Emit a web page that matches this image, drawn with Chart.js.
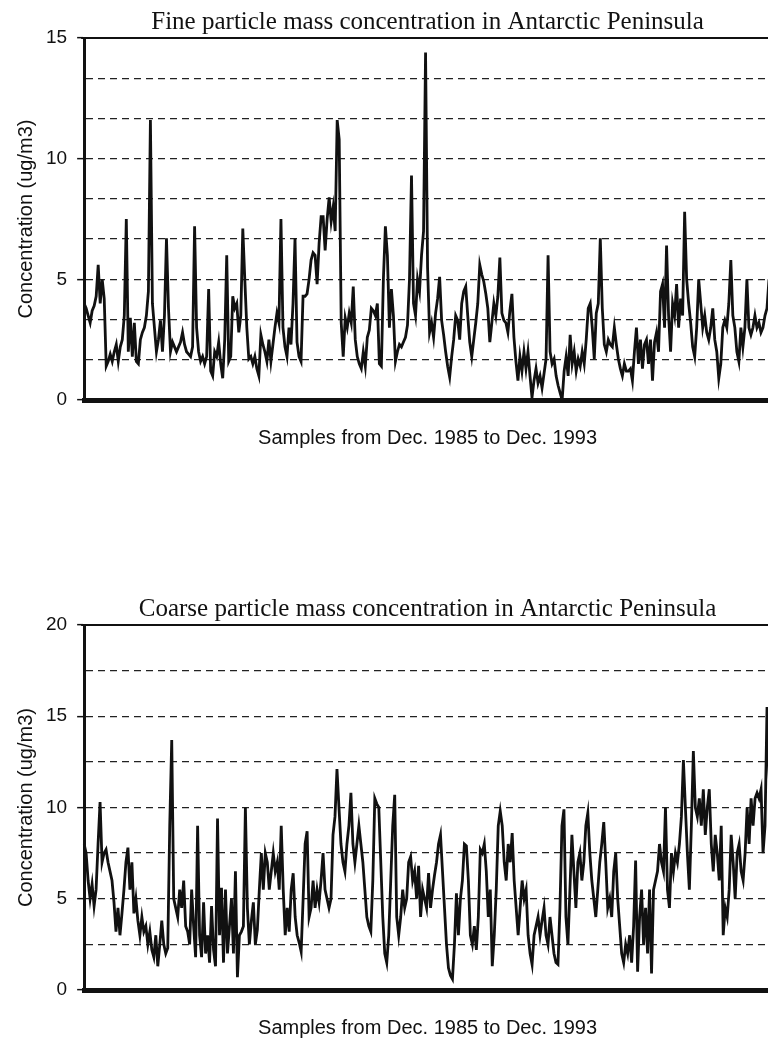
<!DOCTYPE html>
<html>
<head>
<meta charset="utf-8">
<script src="https://cdn.jsdelivr.net/npm/chart.js@4.4.0/dist/chart.umd.min.js"></script>
<style>
  html, body { margin: 0; padding: 0; background: #fff; overflow: hidden; width: 768px; height: 1043px; }
  canvas { position: absolute; left: 0; }
  #fine { top: 0; }
  #coarse { top: 585px; }
</style>
</head>
<body>
<canvas id="fine" width="771" height="461"></canvas>
<canvas id="coarse" width="771" height="458"></canvas>
<script>
// fine particles, ug/m3, one value per sample (Dec 1985 - Dec 1993)
const fineValues = [
  4.0, 3.8, 3.5, 3.2, 3.7, 3.9, 4.3, 5.6, 4.0, 5.0, 4.2, 1.4, 1.6, 1.9, 1.6, 2.0, 2.3, 1.6, 2.2, 2.5,
  3.5, 7.5, 2.0, 3.4, 1.8, 3.2, 1.6, 1.5, 2.5, 2.8, 3.0, 3.5, 4.5, 11.6, 4.0, 3.0, 2.0, 2.5, 3.3, 2.0,
  3.5, 6.7, 3.8, 2.0, 2.4, 2.2, 2.0, 2.2, 2.4, 2.8, 2.3, 2.0, 1.9, 1.8, 2.2, 7.2, 3.0, 2.0, 1.6, 1.8,
  1.5, 1.8, 4.6, 1.2, 1.0, 2.0, 1.8, 2.4, 1.5, 0.9, 2.5, 6.0, 1.6, 1.8, 4.3, 3.8, 4.0, 2.8, 3.5, 7.1,
  5.0, 3.0, 1.7, 1.8, 1.5, 1.8,
  1.3, 1.0, 2.7, 2.3, 2.0, 1.6, 2.5, 1.6, 2.3, 3.0, 3.6, 3.2, 7.5, 3.0, 2.2, 1.8, 3.0, 2.3, 4.0, 6.7,
  2.4, 1.8, 1.6, 4.3, 4.3, 4.4, 5.0, 5.8, 6.1, 6.0, 4.8, 6.5, 7.6, 7.6, 6.2, 7.5, 8.4, 7.4, 8.0, 7.0,
  11.6, 10.8, 3.2, 1.8, 3.4, 3.0, 3.6, 3.2, 4.7, 2.5, 1.8, 1.5, 1.3, 2.0, 1.4, 2.6, 2.9, 3.8, 3.7, 3.5,
  4.0, 1.5, 1.4, 5.0, 7.2, 6.0, 3.0, 4.6, 3.5, 1.6, 2.0, 2.3, 2.2, 2.4, 2.6, 3.1, 5.0, 9.3, 4.0, 3.5,
  5.0, 4.5, 6.0, 7.0, 14.4,
  5.5, 2.8, 3.2, 2.6, 3.6, 4.2, 5.1, 3.3, 2.7, 2.0, 1.4, 0.95, 1.8, 2.5, 3.5, 3.3, 2.5, 4.0, 4.5, 4.7,
  3.5, 2.4, 1.8, 2.5, 3.2, 4.0, 5.6, 5.2, 4.9, 4.4, 3.8, 2.4, 3.2, 4.0, 3.5, 4.3, 5.9, 3.6, 3.3, 3.2,
  2.8, 3.7, 4.4, 2.6, 1.6, 0.8, 1.8, 1.2, 2.0, 1.3, 2.0, 1.0, 0.1, 0.8, 1.3, 0.7, 1.0, 0.5, 1.1, 1.7,
  6.0, 2.0, 1.5, 1.7, 1.0, 0.6, 0.3, 0.0, 1.2, 1.8, 1.0, 2.7, 1.5, 2.0, 1.2, 1.7, 1.4, 2.0, 1.5, 2.5,
  3.8, 4.0, 3.0, 1.7, 3.6,
  4.0, 6.7, 3.8, 2.3, 2.0, 2.5, 2.3, 2.2, 3.0, 2.3, 1.7, 1.3, 1.0, 1.5, 1.2, 1.2, 1.3, 0.8, 2.0, 3.0,
  1.5, 2.5, 1.3, 2.3, 2.5, 1.5, 2.5, 0.8, 2.4, 2.8, 2.0, 4.5, 4.8, 3.0, 6.4, 3.5, 2.0, 4.0, 3.5, 4.8,
  3.0, 4.2, 3.5, 7.8, 5.0, 4.0, 3.2, 2.2, 1.8, 3.0, 5.0, 4.0, 3.0, 3.5, 2.8, 2.5, 3.0, 3.8, 2.5, 2.0,
  0.9, 1.5, 3.0, 3.3, 3.0, 4.0, 5.8, 3.5, 3.0, 2.0, 1.6, 3.0, 2.2, 3.0, 5.0, 3.0, 2.7, 3.0, 3.5, 3.0,
  3.2, 2.8, 3.0, 3.5, 3.8, 5.0, 3.0
];

// coarse particles, ug/m3
const coarseValues = [
  8.0, 7.5, 6.0, 5.0, 5.8, 4.6, 5.5, 8.0, 10.3, 7.0, 7.5, 7.7, 7.0, 6.5, 6.0, 4.8, 3.2, 4.5, 3.0, 4.2,
  5.5, 7.0, 7.8, 5.5, 7.0, 4.2, 5.0, 3.8, 3.0, 4.0, 3.2, 3.5, 2.5, 3.2, 2.2, 1.8, 3.0, 1.3, 2.5, 3.8,
  2.5, 2.0, 2.3, 9.0, 13.7, 5.0, 4.5, 4.0, 5.5, 4.5, 6.0, 3.5, 3.2, 2.5, 5.5, 3.5, 1.8, 9.0, 3.0, 1.8,
  4.8, 2.0, 3.0, 1.5, 4.6, 2.2, 1.3, 9.4, 3.0, 5.6, 1.5, 5.5, 2.0, 3.5, 5.0, 2.0, 6.5, 0.7, 3.0, 3.2,
  3.5, 10.0, 4.5, 2.5, 3.8, 4.8, 2.5,
  3.3, 5.5, 7.5, 5.5, 7.5, 7.0, 5.5, 6.5, 7.5, 6.5, 7.0, 5.5, 9.0, 5.5, 3.0, 4.5, 3.2, 5.5, 6.4, 4.0,
  3.0, 2.6, 2.1, 5.0, 8.0, 8.7, 4.0, 4.5, 6.0, 4.5, 5.5, 4.8, 6.0, 7.5, 5.5, 5.0, 4.5, 5.0, 8.5, 9.5,
  12.1, 10.0, 8.0, 7.0, 6.5, 8.0, 9.0, 10.8, 8.0, 7.0, 8.0, 9.0, 8.0, 7.0, 5.5, 4.0, 3.5, 3.2, 6.0, 10.5,
  10.2, 10.0, 7.0, 4.0, 2.0, 1.5, 3.0, 6.0, 9.0, 10.7, 4.0, 3.0, 4.0, 5.5, 4.5, 5.0, 7.0, 7.3, 6.0, 6.5,
  5.0, 6.8, 4.0, 5.5, 5.0, 4.5,
  6.4, 4.5, 5.5, 6.3, 7.0, 8.0, 8.5, 6.5, 4.5, 2.5, 1.2, 0.8, 0.6, 2.5, 5.3, 3.0, 5.0, 6.0, 8.0, 7.9,
  6.0, 3.0, 2.5, 3.5, 2.2, 4.0, 7.7, 7.5, 8.0, 6.5, 4.0, 5.5, 1.3, 3.0, 5.5, 9.0, 9.8, 9.0, 7.0, 6.0,
  8.0, 7.0, 8.6, 6.0, 4.5, 3.0, 4.5, 6.0, 5.0, 5.5, 3.0, 2.0, 1.4, 3.0, 3.5, 4.0, 3.0, 3.8, 4.5, 3.0,
  2.5, 4.0, 3.0, 2.0, 1.5, 1.4, 4.5, 9.0, 9.9, 4.0, 2.5, 5.5, 8.5, 6.5, 4.5, 7.0, 7.5, 6.0, 7.0, 9.0,
  9.7, 7.5, 6.0, 5.0, 4.0, 5.5,
  7.0, 8.0, 9.2, 7.0, 4.5, 5.0, 4.0, 6.5, 7.5, 5.0, 3.5, 2.0, 1.5, 2.5, 2.0, 3.0, 1.5, 3.5, 7.1, 1.0,
  4.0, 5.5, 2.5, 4.5, 2.0, 5.5, 0.9, 5.5, 6.0, 6.5, 8.0, 7.0, 6.5, 10.0, 5.5, 4.5, 7.5, 6.5, 7.5, 7.0,
  8.0, 9.5, 12.6, 10.0, 7.5, 5.5, 9.0, 13.1, 10.0, 9.5, 10.5, 9.0, 11.0, 8.5, 10.0, 11.0, 8.0, 6.5, 8.5, 7.5,
  6.0, 9.0, 3.0, 4.5, 4.0, 5.5, 8.5, 7.0, 5.0, 7.5, 8.0, 6.5, 6.0, 7.5, 10.0, 8.0, 10.5, 9.0, 10.5, 10.8,
  10.5, 11.0, 7.5, 9.0, 15.5, 12.0, 9.5
];

// dashed grid positions and the ones that carry a label
const fineGrid = [0, 1.6667, 3.3333, 5, 6.6667, 8.3333, 10, 11.6667, 13.3333, 15];
const fineTickLabels = [0, 5, 10, 15];
const coarseGrid = [0, 2.5, 5, 7.5, 10, 12.5, 15, 17.5, 20];
const coarseTickLabels = [0, 5, 10, 15, 20];

const INK = '#111';
const sansFont = 'Arial, "Liberation Sans", sans-serif';
const serifFont = '"Liberation Serif", "Times New Roman", serif';

// solid top edge of the plot frame
const frameTop = {
    id: 'frameTop',
    afterDraw(chart) {
        const { ctx, chartArea: a } = chart;
        ctx.save();
        ctx.strokeStyle = INK;
        ctx.lineWidth = 2;
        ctx.beginPath();
        ctx.moveTo(a.left - 3, a.top);
        ctx.lineTo(a.right, a.top);
        ctx.stroke();
        ctx.restore();
    }
};

function makeChart(id, title, values, grid, tickLabels, yMax, padTop, xTitleBottom) {
    return new Chart(document.getElementById(id), {
        type: 'line',
        data: {
            labels: values.map((v, i) => i + 1),
            datasets: [{
                data: values,
                borderColor: INK,
                borderWidth: 2.8,
                pointRadius: 0,
                tension: 0,
                fill: false
            }]
        },
        options: {
            responsive: false,
            animation: false,
            devicePixelRatio: 1,
            layout: { padding: { top: padTop, left: 4, right: 0, bottom: 0 } },
            plugins: {
                legend: { display: false },
                tooltip: { enabled: false },
                title: {
                    display: true,
                    text: title,
                    fullSize: false,
                    color: INK,
                    font: { family: serifFont, size: 25, weight: 'normal', lineHeight: 1.2 },
                    padding: { top: 0, bottom: 1 }
                }
            },
            scales: {
                x: {
                    type: 'category',
                    grid: { display: false },
                    ticks: { display: false },
                    border: { display: true, color: INK, width: 5 },
                    title: {
                        display: true,
                        text: 'Samples from Dec. 1985 to Dec. 1993',
                        color: INK,
                        font: { family: sansFont, size: 20, lineHeight: 1.2 },
                        padding: { top: 18, bottom: xTitleBottom }
                    }
                },
                y: {
                    min: 0,
                    max: yMax,
                    afterBuildTicks: scale => {
                        scale.ticks = grid.map(v => ({ value: v }));
                    },
                    ticks: {
                        color: INK,
                        padding: 10,
                        font: { family: sansFont, size: 19 },
                        callback: v => tickLabels.includes(v) ? String(v) : ''
                    },
                    grid: {
                        color: c => (c.tick && c.tick.value > 0 && c.tick.value < yMax) ? '#222' : 'rgba(0,0,0,0)',
                        lineWidth: 1.3,
                        tickLength: 7,
                        tickWidth: 1.5,
                        tickColor: c => (c.tick && tickLabels.includes(c.tick.value)) ? INK : 'rgba(0,0,0,0)'
                    },
                    border: { display: true, color: INK, width: 3, dash: [7, 5] },
                    title: {
                        display: true,
                        text: 'Concentration (ug/m3)',
                        color: INK,
                        font: { family: sansFont, size: 20, lineHeight: 1.0 },
                        padding: { top: 12, bottom: 0 }
                    }
                }
            }
        },
        plugins: [frameTop]
    });
}

makeChart('fine', 'Fine particle mass concentration in Antarctic Peninsula',
    fineValues, fineGrid, fineTickLabels, 15, 7, 11);
makeChart('coarse', 'Coarse particle mass concentration in Antarctic Peninsula',
    coarseValues, coarseGrid, coarseTickLabels, 20, 9, 3);
</script>
</body>
</html>
